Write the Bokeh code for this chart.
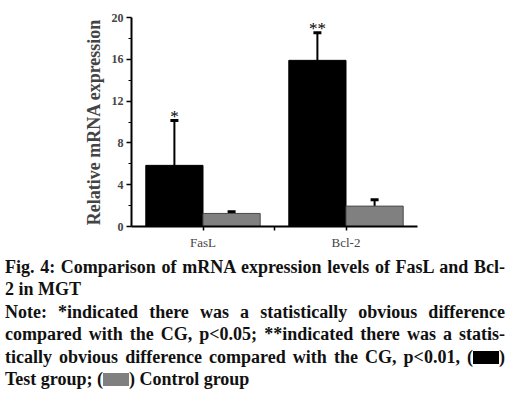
from bokeh.plotting import figure
from bokeh.models import (ColumnDataSource, FixedTicker, Whisker, TeeHead, Div, Range1d)
from bokeh.layouts import column
from bokeh.core.properties import value
from bokeh.embed import file_html
from bokeh.resources import INLINE

# ---- data ----
genes = ["FasL", "Bcl-2"]
test_mean = [5.85, 15.9]
test_sd = [4.3, 2.65]
control_mean = [1.25, 1.95]
control_sd = [0.15, 0.6]
stars = ["*", "**"]
y_ticks = [0, 4, 8, 12, 16, 20]

SERIF = "Liberation Serif"
idx = list(range(len(genes)))

test_src = ColumnDataSource(dict(
    x=[i - 0.2 for i in idx], top=test_mean,
    upper=[m + s for m, s in zip(test_mean, test_sd)], star=stars))
ctrl_src = ColumnDataSource(dict(
    x=[i + 0.2 for i in idx], top=control_mean,
    upper=[m + s for m, s in zip(control_mean, control_sd)]))

p = figure(width=504, height=256, output_backend="svg", toolbar_location=None,
           x_range=Range1d(-0.5, 1.5), y_range=Range1d(0, 20),
           min_border_left=131, min_border_right=87, min_border_top=17,
           min_border_bottom=30)
p.outline_line_color = None
p.grid.visible = False
p.background_fill_color = "white"

p.vbar(x="x", top="top", width=0.4, source=test_src, fill_color="black",
       line_color="black", line_width=1)
p.vbar(x="x", top="top", width=0.4, source=ctrl_src, fill_color="#808080",
       line_color="#4a4a4a", line_width=1)

for src in (test_src, ctrl_src):
    w = Whisker(base="x", upper="upper", lower="top", source=src,
                line_color="black", line_width=2,
                upper_head=TeeHead(size=8, line_width=3, line_color="black"),
                lower_head=None)
    p.add_layout(w)

p.text(x="x", y="upper", text="star", source=test_src, text_align="center",
       text_baseline="alphabetic", y_offset=-4, text_font=value(SERIF),
       text_font_size="17px", text_color="black")

# y axis
yax = p.yaxis[0]
yax.ticker = FixedTicker(ticks=y_ticks, minor_ticks=[2, 6, 10, 14, 18])
yax.axis_line_width = 2
yax.major_tick_in = 0
yax.major_tick_out = 5
yax.minor_tick_in = 0
yax.minor_tick_out = 3
yax.major_tick_line_width = 1.5
yax.major_label_text_font = SERIF
yax.major_label_text_font_style = "bold"
yax.major_label_text_font_size = "12px"
yax.major_label_standoff = 3
yax.axis_label = "Relative mRNA expression"
yax.axis_label_text_font = SERIF
yax.axis_label_text_font_style = "bold"
yax.axis_label_text_font_size = "18px"
yax.axis_label_standoff = 5

# x axis
xax = p.xaxis[0]
xax.ticker = FixedTicker(ticks=[0, 0.5, 1], minor_ticks=[])
xax.major_label_overrides = {0: genes[0], 0.5: "", 1: genes[1]}
xax.axis_line_width = 2
xax.major_tick_in = 0
xax.major_tick_out = 4
xax.major_tick_line_width = 1.5
xax.major_label_text_font = SERIF
xax.major_label_text_font_size = "13px"
xax.major_label_standoff = 4

BOX = "display:inline-block;width:26px;height:13px;vertical-align:-1px;"
line_j = "text-align:justify;text-align-last:justify;white-space:nowrap;"
caption = f"""
<div style="font-family:'Liberation Serif';font-weight:bold;font-size:18px;line-height:22.4px;color:#111;width:500px;">
<div style="{line_j}">Fig. 4: Comparison of mRNA expression levels of FasL and Bcl-</div>
<div>2 in MGT</div>
<div style="{line_j}">Note: *indicated there was a statistically obvious difference</div>
<div style="{line_j}">compared with the CG, p&lt;0.05; **indicated there was a statis-</div>
<div style="{line_j}">tically obvious difference compared with the CG, p&lt;0.01, (<span style="{BOX}background:#000;"></span>)</div>
<div>Test group; (<span style="{BOX}background:#808080;"></span>) Control group</div>
</div>
"""
div = Div(text=caption, width=500, height=134, margin=(0, 0, 0, 5))

layout = column(p, div, spacing=0)
open("out.html", "w").write(file_html(layout, INLINE))
